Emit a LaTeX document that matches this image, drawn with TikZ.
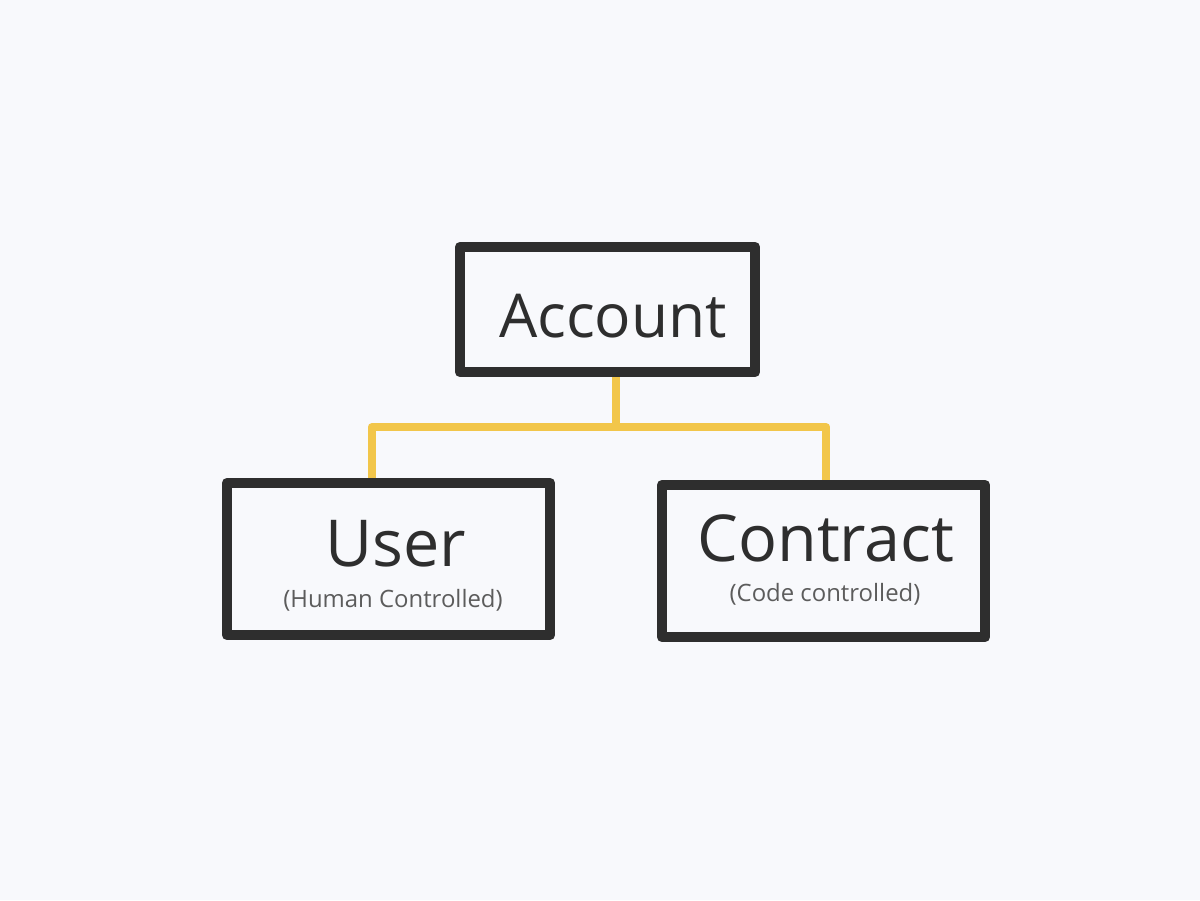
\documentclass[tikz,border=0pt]{standalone}
\usepackage{fontspec}
\setmainfont{Open Sans}
\usetikzlibrary{positioning}

\definecolor{paper}{HTML}{F8F9FC}
\definecolor{chalk}{HTML}{2E2E2E}
\definecolor{notegray}{HTML}{5C5C5C}
\definecolor{wire}{HTML}{F2C64A}

\tikzset{
	box/.style={draw=chalk, line width=7.5pt, line join=round, fill=paper, inner sep=0pt},
	title/.style={anchor=base, text=chalk, font=\fontsize{46}{50}\selectfont},
	note/.style={anchor=base, text=notegray, font=\fontsize{17}{20}\selectfont},
	link/.style={draw=wire, line width=5.6pt, line join=round}
}

\begin{document}
\begin{tikzpicture}[x=0.025cm, y=-0.025cm]

%% Hintergrund
\fill[paper] (0,0) rectangle (1200,900);
\useasboundingbox (0,0) rectangle (1200,900);

%% Boxen
\node[box, minimum width=7.375cm, minimum height=3.125cm] (account) at (607.5,309.5) {};
\node[box, minimum width=8.075cm, minimum height=3.8cm] (user) at (388.5,559) {};
\node[box, minimum width=8.075cm, minimum height=3.8cm] (contract) at (823.5,561) {};
%%%%%%%%%%%%%%%%

%% Texte
\node[title, font=\fontsize{43}{47}\selectfont] (accounttext) at (613,337) {Account};
\node[title] (usertext) at (396,566) {User};
\node[title] (contracttext) at (826,561) {Contract};
\node[note] (usernote) at (393,607) {(Human Controlled)};
\node[note] (contractnote) at (825,601) {(Code controlled)};
%%%%%%%%%%%%%%%%

%% Verbindungen
\coordinate (fork) at ([xshift=6pt]account.south |- 0,427);
\draw[link] ([xshift=6pt]account.south) -- (fork);
\draw[link] (fork) -| ([xshift=-12pt]user.north);
\draw[link] (fork) -| ([xshift=2pt]contract.north);

\end{tikzpicture}
\end{document}
